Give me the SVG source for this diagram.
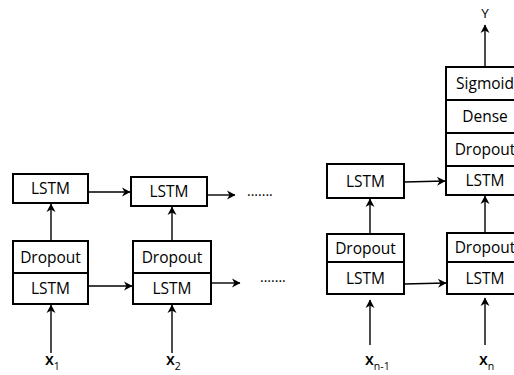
<svg xmlns="http://www.w3.org/2000/svg" width="514" height="375" viewBox="0 0 514 375">
<style>
.box{fill:#fff;stroke:#000;stroke-width:2}
.t{font-family:"Open Sans","Liberation Sans",sans-serif;font-size:15.5px;fill:#000;text-anchor:middle}
.lbl{font-family:"Open Sans","Liberation Sans",sans-serif;font-size:16px;font-weight:600;fill:#000}
.sub{font-size:10.5px;font-weight:400}
.dots{font-family:"Open Sans","Liberation Sans",sans-serif;font-size:14px;fill:#000}
.c{stroke:#000;stroke-width:1.4;fill:none;marker-end:url(#ah)}
</style>
<defs>
<marker id="ah" markerUnits="userSpaceOnUse" markerWidth="12" markerHeight="12" refX="8" refY="0" viewBox="-1 -6 11 12" orient="auto" overflow="visible">
<path d="M0,-4.5 L8.5,0 L0,4.5 L2.5,0 Z" fill="#000"/>
</marker>
</defs>

<g id="connectors">
<line class="c" x1="88" y1="192" x2="130" y2="192"/>
<line class="c" x1="207" y1="195" x2="235" y2="195"/>
<line class="c" x1="88" y1="286" x2="132" y2="286"/>
<line class="c" x1="211" y1="283" x2="240" y2="283"/>
<line class="c" x1="404" y1="182" x2="445" y2="181"/>
<line class="c" x1="404" y1="284" x2="446" y2="283"/>
<line class="c" x1="51" y1="241" x2="51" y2="204"/>
<line class="c" x1="172" y1="241" x2="172" y2="207"/>
<line class="c" x1="370" y1="234" x2="370" y2="199"/>
<line class="c" x1="485" y1="233" x2="485" y2="196"/>
<line class="c" x1="51" y1="353" x2="51" y2="305"/>
<line class="c" x1="172" y1="353" x2="172" y2="305"/>
<line class="c" x1="370" y1="345" x2="370" y2="300"/>
<line class="c" x1="485" y1="345" x2="485" y2="298"/>
<line class="c" x1="485" y1="67" x2="485" y2="25"/>
</g>

<g id="lstm_top_1"><rect class="box" x="13" y="174" width="75" height="29"/><text class="t" x="50.5" y="194">LSTM</text></g>
<g id="stack_1">
<rect class="box" x="13" y="241" width="75" height="32"/><text class="t" x="50.5" y="262.5">Dropout</text>
<rect class="box" x="13" y="273" width="75" height="31"/><text class="t" x="50.5" y="294">LSTM</text>
</g>

<g id="lstm_top_2"><rect class="box" x="131" y="177" width="76" height="29"/><text class="t" x="169" y="197">LSTM</text></g>
<g id="stack_2">
<rect class="box" x="133" y="241" width="78" height="32"/><text class="t" x="172" y="262.5">Dropout</text>
<rect class="box" x="133" y="273" width="78" height="31"/><text class="t" x="172" y="294">LSTM</text>
</g>

<g id="lstm_top_n1"><rect class="box" x="327" y="164" width="77" height="34"/><text class="t" x="365.5" y="186.5">LSTM</text></g>
<g id="stack_n1">
<rect class="box" x="327" y="234" width="77" height="28"/><text class="t" x="365.5" y="253.5">Dropout</text>
<rect class="box" x="327" y="262" width="77" height="32"/><text class="t" x="365.5" y="283.5">LSTM</text>
</g>

<g id="stack_top_n">
<rect class="box" x="446" y="67" width="80" height="33"/><text class="t" x="485" y="89">Sigmoid</text>
<rect class="box" x="446" y="100" width="80" height="33"/><text class="t" x="485" y="122">Dense</text>
<rect class="box" x="446" y="133" width="80" height="33"/><text class="t" x="485" y="155">Dropout</text>
<rect class="box" x="446" y="166" width="80" height="29"/><text class="t" x="485" y="186">LSTM</text>
</g>
<g id="stack_n">
<rect class="box" x="447" y="233" width="80" height="29"/><text class="t" x="485" y="253">Dropout</text>
<rect class="box" x="447" y="262" width="80" height="32"/><text class="t" x="485" y="283.5">LSTM</text>
</g>

<g id="dots">
<text class="dots" x="247" y="196">.......</text>
<text class="dots" x="260" y="282">.......</text>
</g>

<g id="labels">
<text class="lbl" x="45" y="365">x<tspan class="sub" dy="5">1</tspan></text>
<text class="lbl" x="166" y="365">x<tspan class="sub" dy="5">2</tspan></text>
<text class="lbl" x="365" y="365">x<tspan class="sub" dy="5">n-1</tspan></text>
<text class="lbl" x="479" y="365">x<tspan class="sub" dy="5">n</tspan></text>
<text class="lbl" x="485" y="18" text-anchor="middle" style="font-size:13.5px;font-weight:400">Y</text>
</g>
</svg>
